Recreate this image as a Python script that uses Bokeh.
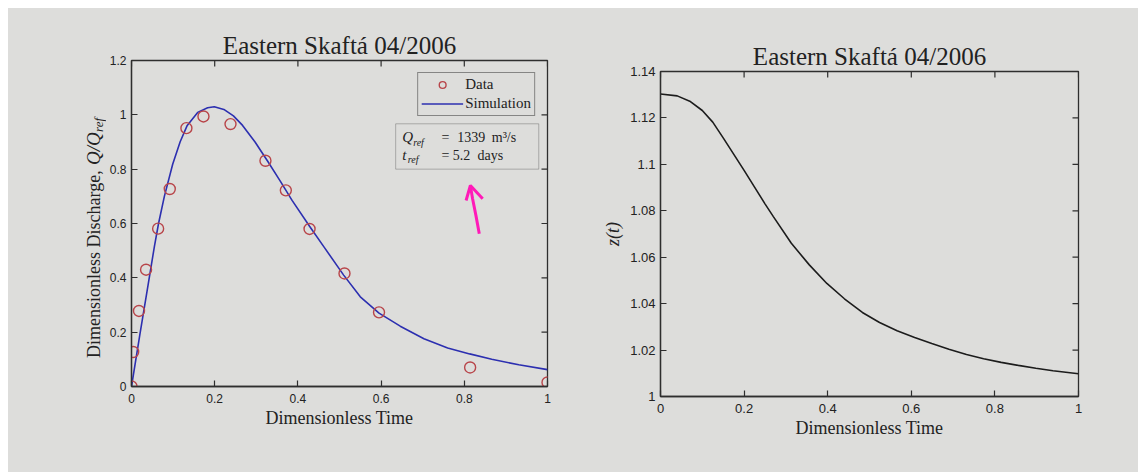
import math
from bokeh.plotting import figure
from bokeh.models import (FixedTicker, Legend, LegendItem, BoxAnnotation, Label)
from bokeh.core.properties import value
from bokeh.layouts import row, column
from bokeh.embed import file_html
from bokeh.resources import INLINE

# ---------------- data ----------------
title_text = "Eastern Skaftá 04/2006"

data_t = [0.0, 0.004, 0.018, 0.035, 0.064, 0.092, 0.132, 0.173, 0.238, 0.322, 0.371, 0.428, 0.512, 0.595, 0.814, 1.0]
data_q = [0.0, 0.127, 0.278, 0.43, 0.581, 0.727, 0.951, 0.994, 0.966, 0.831, 0.722, 0.58, 0.416, 0.273, 0.07, 0.015]

sim_t = [0.0, 0.02, 0.04, 0.055, 0.065, 0.079, 0.099, 0.117, 0.134, 0.159, 0.183, 0.199, 0.222, 0.245,
         0.267, 0.297, 0.327, 0.358, 0.386, 0.428, 0.463, 0.51, 0.55, 0.595, 0.646, 0.703, 0.76, 0.813,
         0.866, 0.931, 1.0]
sim_q = [0.0, 0.19, 0.375, 0.515, 0.6, 0.70, 0.818, 0.901, 0.961, 1.009, 1.026, 1.03, 1.02, 0.996,
         0.961, 0.90, 0.83, 0.755, 0.685, 0.59, 0.513, 0.41, 0.33, 0.27, 0.222, 0.176, 0.142, 0.12,
         0.10, 0.08, 0.062]

z_t = [0.0, 0.04, 0.07, 0.10, 0.125, 0.15, 0.175, 0.20, 0.225, 0.25, 0.27, 0.313, 0.356, 0.398,
       0.44, 0.483, 0.524, 0.566, 0.608, 0.649, 0.69, 0.732, 0.773, 0.815, 0.856, 0.898, 0.939, 1.0]
z_v = [1.1303, 1.1295, 1.1272, 1.1232, 1.1182, 1.1114, 1.1044, 1.0974, 1.0902, 1.0830, 1.0775,
       1.0660, 1.0567, 1.0487, 1.0421, 1.0362, 1.0319, 1.0283, 1.0254, 1.0228, 1.0204, 1.0181,
       1.0163, 1.0147, 1.0134, 1.0122, 1.0111, 1.0098]

t_ticks = [0.0, 0.2, 0.4, 0.6, 0.8, 1.0]
t_tick_labels = ["0", "0.2", "0.4", "0.6", "0.8", "1"]
q_ticks = [0.0, 0.2, 0.4, 0.6, 0.8, 1.0, 1.2]
q_tick_labels = ["0", "0.2", "0.4", "0.6", "0.8", "1", "1.2"]
z_ticks = [1.0, 1.02, 1.04, 1.06, 1.08, 1.1, 1.12, 1.14]
z_tick_labels = ["1", "1.02", "1.04", "1.06", "1.08", "1.1", "1.12", "1.14"]

legend_labels = ["Data", "Simulation"]
ylabel_parts = ["Dimensionless Discharge,", "Q/Q", "ref"]

# hand-drawn magenta arrow in the photo (data units of the left panel)
arrow_shaft_x = [0.836, 0.828, 0.8198, 0.8146]
arrow_shaft_y = [0.562, 0.629, 0.692, 0.7398]
arrow_head_x = [0.8043, 0.8146, 0.8442]
arrow_head_y = [0.6846, 0.7398, 0.6908]

# ---------------- style ----------------
BG = "#dddddb"
AXC = "#2e2e2e"
TXT = "#222222"
RED = "#b8454a"
BLUE = "#2c2fb0"
SERIF = "Liberation Serif"
SANS = "Liberation Sans"


def style_axis(ax, size):
    ax.major_tick_in = 6
    ax.major_tick_out = 0
    ax.minor_tick_line_color = None
    ax.axis_line_color = AXC
    ax.axis_line_width = 1.3
    ax.major_tick_line_color = AXC
    ax.major_tick_line_width = 1.2
    ax.major_label_text_font = SANS
    ax.major_label_text_font_size = size
    ax.major_label_text_color = TXT
    ax.axis_label_text_font = SERIF
    ax.axis_label_text_font_size = "18px"
    ax.axis_label_text_font_style = "normal"
    ax.axis_label_text_color = TXT


def make_fig(width, height, xr, yr, borders, xt, xl, yt, yl, tick_size, title_offset):
    p = figure(width=width, height=height, x_range=xr, y_range=yr,
               output_backend="svg", toolbar_location=None,
               min_border_left=borders[0], min_border_right=borders[1],
               min_border_top=borders[2], min_border_bottom=borders[3],
               background_fill_color=BG, border_fill_color=BG)
    p.grid.visible = False
    p.outline_line_color = AXC
    p.outline_line_width = 1.3
    p.title.text = title_text
    p.title.align = "center"
    p.title.offset = title_offset
    p.title.text_font = SERIF
    p.title.text_font_size = "25px"
    p.title.text_font_style = "normal"
    p.title.text_color = TXT
    p.title.standoff = 4
    p.xaxis.ticker = FixedTicker(ticks=xt)
    p.xaxis.major_label_overrides = dict(zip(xt, xl))
    p.yaxis.ticker = FixedTicker(ticks=yt)
    p.yaxis.major_label_overrides = dict(zip(yt, yl))
    for ax in p.xaxis + p.yaxis:
        style_axis(ax, tick_size)
    p.xaxis.major_label_standoff = 7
    p.yaxis.major_label_standoff = 5
    p.xaxis.axis_label = "Dimensionless Time"
    p.xaxis.axis_label_standoff = 2
    # inward ticks on the top and right edges of the box (MATLAB "box on")
    p.ray(x=xt, y=[yr[1]] * len(xt), length=6, length_units="screen", angle=-math.pi / 2,
          line_color=AXC, line_width=1.2)
    p.ray(x=[xr[1]] * len(yt), y=yt, length=6, length_units="screen", angle=math.pi,
          line_color=AXC, line_width=1.2)
    return p


# ---------------- left panel ----------------
p1 = make_fig(464, 464, (0, 1), (0, 1.2), (22, 23, 52, 86),
              t_ticks, t_tick_labels, q_ticks, q_tick_labels, "12px", -5)

# strip holding the rotated y label of the left panel (shares its y range)
lf = figure(width=98, height=464, x_range=(0, 98), y_range=p1.y_range,
            x_axis_location=None, y_axis_location=None, title_location=None,
            output_backend="svg", toolbar_location=None,
            min_border_left=0, min_border_right=0, min_border_top=0, min_border_bottom=0,
            background_fill_color=BG, border_fill_color=BG)
lf.grid.visible = False
lf.outline_line_color = None
lf.text(x=[85], y=[0.105], text=[ylabel_parts[0]], angle=math.pi / 2,
        text_font=value(SERIF), text_font_size="18px", text_color=TXT,
        text_align="left", text_baseline="middle")
lf.text(x=[85], y=[0.815], text=[ylabel_parts[1]], angle=math.pi / 2,
        text_font=value(SERIF), text_font_size="19px", text_font_style="italic", text_color=TXT,
        text_align="left", text_baseline="middle")
lf.text(x=[90], y=[0.937], text=[ylabel_parts[2]], angle=math.pi / 2,
        text_font=value(SERIF), text_font_size="13px", text_font_style="italic", text_color=TXT,
        text_align="left", text_baseline="middle")

r_sim = p1.line(sim_t, sim_q, line_color=BLUE, line_width=1.6)
r_data = p1.scatter(data_t, data_q, marker="circle", size=11, fill_color=None,
                    line_color=RED, line_width=1.4)

legend = Legend(items=[LegendItem(label=legend_labels[0], renderers=[r_data]),
                       LegendItem(label=legend_labels[1], renderers=[r_sim])],
                location="top_right")
legend.label_text_font = SERIF
legend.label_text_font_size = "15px"
legend.label_text_color = TXT
legend.glyph_width = 42
legend.glyph_height = 17
legend.label_height = 17
legend.spacing = 2
legend.padding = 3
legend.margin = 12
legend.label_standoff = 2
legend.border_line_color = AXC
legend.border_line_width = 1
legend.background_fill_color = BG
legend.background_fill_alpha = 1
p1.add_layout(legend)

# Q_ref / t_ref box
p1.add_layout(BoxAnnotation(left=0.635, right=0.979, bottom=0.80, top=0.967,
                            fill_color=BG, fill_alpha=1, line_color=AXC, line_width=1))


def lab(p, x, y, text, size="14px", style="normal"):
    p.add_layout(Label(x=x, y=y, text=text, text_font=SERIF,
                       text_font_size=size, text_font_style=style, text_color=TXT,
                       text_baseline="middle", text_align="left"))


lab(p1, 0.651, 0.917, "Q", "15px", "italic")
lab(p1, 0.677, 0.899, "ref", "10px", "italic")
lab(p1, 0.745, 0.917, "=")
lab(p1, 0.783, 0.917, "1339")
lab(p1, 0.866, 0.917, "m³/s")
lab(p1, 0.651, 0.852, "t", "15px", "italic")
lab(p1, 0.664, 0.836, "ref", "10px", "italic")
lab(p1, 0.745, 0.852, "=")
lab(p1, 0.772, 0.852, "5.2")
lab(p1, 0.832, 0.852, "days")

# magenta hand-drawn arrow
p1.line(arrow_shaft_x, arrow_shaft_y, line_color="#ff1ab8", line_width=3)
p1.line(arrow_head_x, arrow_head_y, line_color="#ff1ab8", line_width=3)

# ---------------- right panel ----------------
p2 = make_fig(568, 464, (0, 1), (1.0, 1.14), (90, 60, 63, 76),
              t_ticks, t_tick_labels, z_ticks, z_tick_labels, "13px", 12)
p2.yaxis[0].axis_label = "z(t)"
p2.yaxis[0].axis_label_text_font_style = "italic"
p2.yaxis[0].axis_label_standoff = 4
p2.line(z_t, z_v, line_color="#1c1c1c", line_width=1.6)

layout = row(row(lf, p1), column(p2), margin=(8, 0, 0, 8), styles={"background-color": BG})
open("out.html", "w").write(file_html(layout, INLINE))
